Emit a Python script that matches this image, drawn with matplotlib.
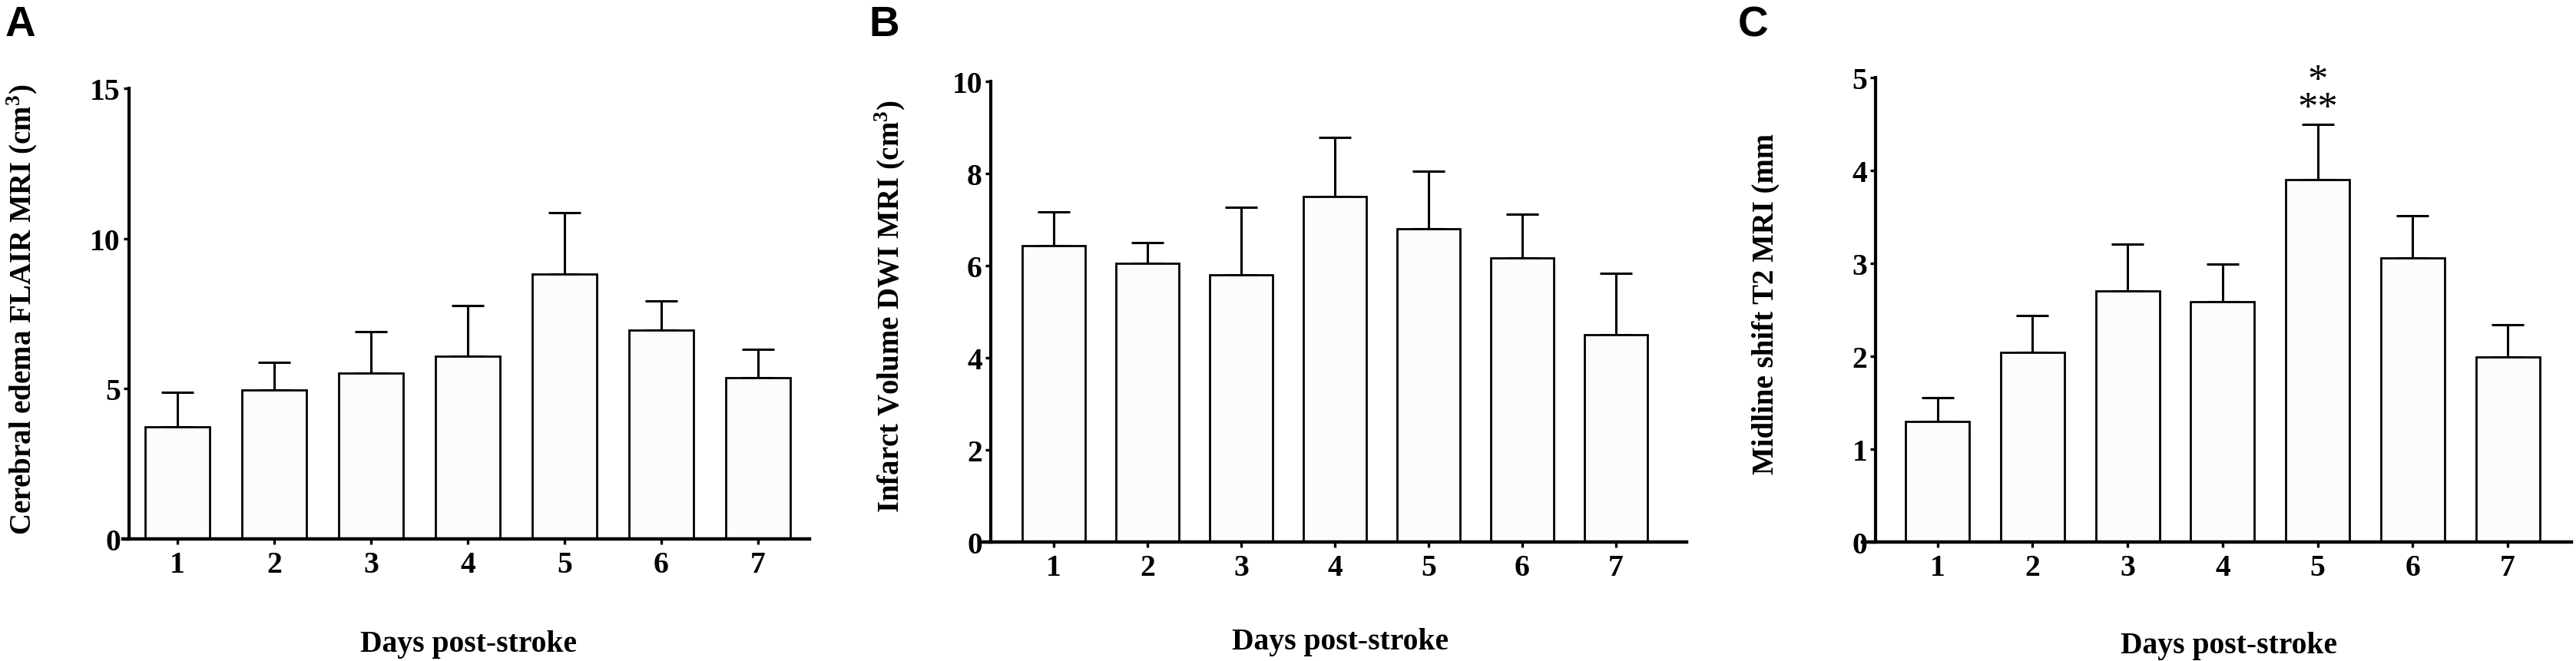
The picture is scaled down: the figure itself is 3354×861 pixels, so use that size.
import numpy as np
import matplotlib
matplotlib.use("Agg")
import matplotlib.pyplot as plt

plt.rcParams['font.family'] = ['Liberation Serif', 'DejaVu Serif']
plt.rcParams['font.weight'] = 'bold'
plt.rcParams['mathtext.fontset'] = 'custom'
plt.rcParams['mathtext.bf'] = 'Liberation Serif:bold'
plt.rcParams['mathtext.rm'] = 'Liberation Serif:bold'

days = [1, 2, 3, 4, 5, 6, 7]
day_labels = ['1', '2', '3', '4', '5', '6', '7']

# A: cerebral edema FLAIR (cm3), mean and upper error
edema_mean = [3.74, 4.95, 5.52, 6.09, 8.81, 6.95, 5.36]
edema_err = [1.13, 0.92, 1.37, 1.68, 2.05, 0.96, 0.94]

# B: infarct volume DWI (cm3)
infarct_mean = [6.43, 6.05, 5.80, 7.50, 6.80, 6.17, 4.50]
infarct_err = [0.73, 0.45, 1.46, 1.29, 1.25, 0.94, 1.34]

# C: midline shift T2 (mm)
shift_mean = [1.30, 2.04, 2.70, 2.59, 3.90, 3.06, 1.99]
shift_err = [0.25, 0.40, 0.51, 0.40, 0.60, 0.45, 0.35]
shift_stars = '*\n**'

panels = [
    dict(letter='A', mean=edema_mean, err=edema_err, ylim=15, yticks=[0, 5, 10, 15],
         ylabel=r'Cerebral edema FLAIR MRI (cm$^{\mathbf{3}}$)',
         rect=[0.0477, 1 - 703/862, 0.2665, 587/862], xlim=(0.437, 7.53), spine=0.5,
         letter_x=7, ylab_x=29, ylab_y=403, xlab_x=610, xlab_y=840),
    dict(letter='B', mean=infarct_mean, err=infarct_err, ylim=10, yticks=[0, 2, 4, 6, 8, 10],
         ylabel=r'Infarct Volume DWI MRI (cm$^{\mathbf{3}}$)',
         rect=[0.3801, 1 - 707/862, 0.2745, 600/862], xlim=(0.205, 7.75), spine=0.33,
         letter_x=1131, ylab_x=1159, ylab_y=399, xlab_x=1745, xlab_y=837),
    dict(letter='C', mean=shift_mean, err=shift_err, ylim=5, yticks=[0, 1, 2, 3, 4, 5],
         ylabel='Midline shift T2 MRI (mm',
         rect=[0.7230, 1 - 707/862, 0.2752, 605/862], xlim=(0.21, 7.67), spine=0.35,
         letter_x=2263, ylab_x=2299, ylab_y=396, xlab_x=2902, xlab_y=842),
]

W, H = 3354, 862
fig = plt.figure(figsize=(W/100, H/100), dpi=100)

for p in panels:
    ax = fig.add_axes(p['rect'])
    ax.bar(days, p['mean'], width=0.67, color='#fcfcfc', edgecolor='black',
           linewidth=2.0, zorder=3)
    ax.errorbar(days, p['mean'], yerr=[np.zeros(len(days)), p['err']], fmt='none',
                ecolor='black', elinewidth=2.2, capsize=15, capthick=2.2, zorder=2)
    ax.set_xlim(*p['xlim'])
    ax.set_ylim(0, p['ylim'])
    ax.set_xticks(days)
    ax.set_xticklabels(day_labels)
    ax.set_yticks(p['yticks'])
    for s in ['top', 'right']:
        ax.spines[s].set_visible(False)
    ax.spines['left'].set_position(('data', p['spine']))
    ax.spines['left'].set_linewidth(3.0)
    ax.spines['bottom'].set_linewidth(3.2)
    ax.spines['bottom'].set_zorder(4)
    ax.tick_params(axis='x', length=5, width=2.4, pad=6, labelsize=28.5)
    ax.tick_params(axis='y', length=5, width=2.4, pad=3, labelsize=28.5)
    for lab in ax.get_xticklabels() + ax.get_yticklabels():
        lab.set_fontweight('bold')
    ax.patch.set_alpha(0)

    fig.text(p['letter_x']/W, 1 - 47/H, p['letter'], fontsize=39.5, fontweight='bold',
             family=['Liberation Sans', 'DejaVu Sans'], ha='left', va='baseline')
    fig.text(p['ylab_x']/W, 1 - p['ylab_y']/H, p['ylabel'], rotation=90, fontsize=28,
             fontweight='bold', ha='center', va='center')
    fig.text(p['xlab_x']/W, 1 - p['xlab_y']/H, 'Days post-stroke', fontsize=28.5,
             fontweight='bold', ha='center', va='center')

    if p['letter'] == 'C':
        ax.text(5, 4.55, shift_stars, fontsize=38, fontweight='normal', ha='center',
                va='baseline', multialignment='center', linespacing=0.7, clip_on=False)

fig.savefig('out.png', dpi=100)
